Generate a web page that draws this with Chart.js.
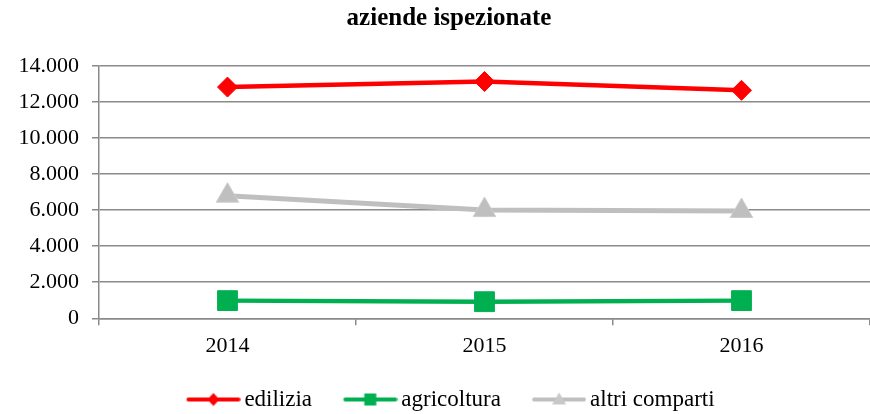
<!DOCTYPE html>
<html>
<head>
<meta charset="utf-8">
<script src="https://cdn.jsdelivr.net/npm/chart.js@4"></script>
<style>
html,body{margin:0;padding:0;background:#ffffff;}
#wrap{width:870px;height:414px;}
</style>
</head>
<body>
<div id="wrap"><canvas id="c" width="870" height="414"></canvas></div>
<script>
const chartTitle = 'aziende ispezionate';
const categories = ['2014', '2015', '2016'];
const seriesNames = ['edilizia', 'agricoltura', 'altri comparti'];
const edilizia = [12820, 13130, 12640];
const agricoltura = [980, 920, 980];
const altriComparti = [6800, 6000, 5950];
const yTickLabels = ['0', '2.000', '4.000', '6.000', '8.000', '10.000', '12.000', '14.000'];

const FONT = "'Liberation Serif', 'Times New Roman', serif";
const GRID = '#8a8a8a';
const RED = '#ff0000', GREEN = '#00b050', GREY = '#bfbfbf';

// legend sample: line with marker, drawn into a small canvas used as the legend point style
function makeSample(kind, color) {
  const c = document.createElement('canvas');
  c.width = 66; c.height = 24;
  const g = c.getContext('2d');
  g.strokeStyle = color; g.lineWidth = 4; g.lineCap = 'round';
  g.beginPath(); g.moveTo(13.75, 12); g.lineTo(63.75, 12); g.stroke();
  g.fillStyle = color;
  const cx = 38.75;
  g.beginPath();
  if (kind === 'diamond') {
    g.moveTo(cx, 5.5); g.lineTo(cx + 6, 12); g.lineTo(cx, 18.5); g.lineTo(cx - 6, 12); g.closePath();
  } else if (kind === 'square') {
    g.rect(cx - 6, 6, 12, 12);
  } else {
    g.fillStyle = '#c8c8c8';
    g.moveTo(cx, 5); g.lineTo(cx + 7, 17); g.lineTo(cx - 7, 17); g.closePath();
  }
  g.fill();
  return c;
}
const samples = [makeSample('diamond', RED), makeSample('square', GREEN), makeSample('triangle', GREY)];

const blockShift = {
  id: 'blockShift',
  afterLayout(chart) {
    if (chart.legend) { chart.legend.left += 12; chart.legend.right += 12; }
    if (chart.titleBlock) { chart.titleBlock.left += 12.5; chart.titleBlock.right += 12.5; }
  }
};

new Chart(document.getElementById('c'), {
  type: 'line',
  data: {
    labels: categories,
    datasets: [
      { label: seriesNames[0], data: edilizia, borderColor: RED, backgroundColor: RED, borderWidth: 4.5,
        pointStyle: 'rectRot', pointRadius: 10, pointBorderColor: RED, pointBackgroundColor: RED, pointBorderWidth: 1, tension: 0 },
      { label: seriesNames[1], data: agricoltura, borderColor: GREEN, backgroundColor: GREEN, borderWidth: 4.5,
        pointStyle: 'rect', pointRadius: 14, pointBorderColor: GREEN, pointBackgroundColor: GREEN, pointBorderWidth: 1, tension: 0 },
      { label: seriesNames[2], data: altriComparti, borderColor: GREY, backgroundColor: GREY, borderWidth: 5,
        pointStyle: 'triangle', pointRadius: 13, pointBorderColor: '#cdcdcd', pointBackgroundColor: GREY, pointBorderWidth: 1, tension: 0 }
    ]
  },
  plugins: [blockShift],
  options: {
    responsive: false,
    animation: false,
    devicePixelRatio: 1,
    layout: { autoPadding: false, padding: { left: 0, right: -3, top: 0, bottom: -7 } },
    plugins: {
      title: {
        display: true, text: chartTitle, color: '#000',
        font: { family: FONT, size: 25, weight: 'bold', lineHeight: 1.2 },
        padding: { top: 3.3, bottom: 32.5 }
      },
      legend: {
        position: 'bottom',
        labels: {
          color: '#000',
          font: { family: FONT, size: 23 },
          usePointStyle: true,
          pointStyleWidth: 50.5,
          padding: 27.2,
          generateLabels: function (chart) {
            const items = Chart.defaults.plugins.legend.labels.generateLabels(chart);
            items.forEach((it, i) => { it.pointStyle = samples[i]; });
            return items;
          }
        }
      },
      tooltip: { enabled: false }
    },
    scales: {
      x: {
        type: 'category',
        offset: true,
        grid: { offset: true, drawOnChartArea: false, drawTicks: true, tickLength: 7, color: GRID, lineWidth: 1.5 },
        border: { display: true, color: GRID, width: 1.5 },
        ticks: { color: '#000', font: { family: FONT, size: 22, lineHeight: 1.2 }, padding: 7.8, maxRotation: 0 },
        afterFit: (s) => { s.height = 42.5; s.paddingLeft = 0; s.paddingRight = 0; }
      },
      y: {
        min: 0, max: 14000,
        grid: { drawTicks: true, tickLength: 7, color: GRID, lineWidth: 1.5 },
        border: { display: true, color: GRID, width: 1.5 },
        ticks: { stepSize: 2000, color: '#000', font: { family: FONT, size: 22 }, padding: 13,
          callback: (v, i) => yTickLabels[i] },
        afterFit: (s) => { s.width = 99; }
      }
    }
  }
});
</script>
</body>
</html>
